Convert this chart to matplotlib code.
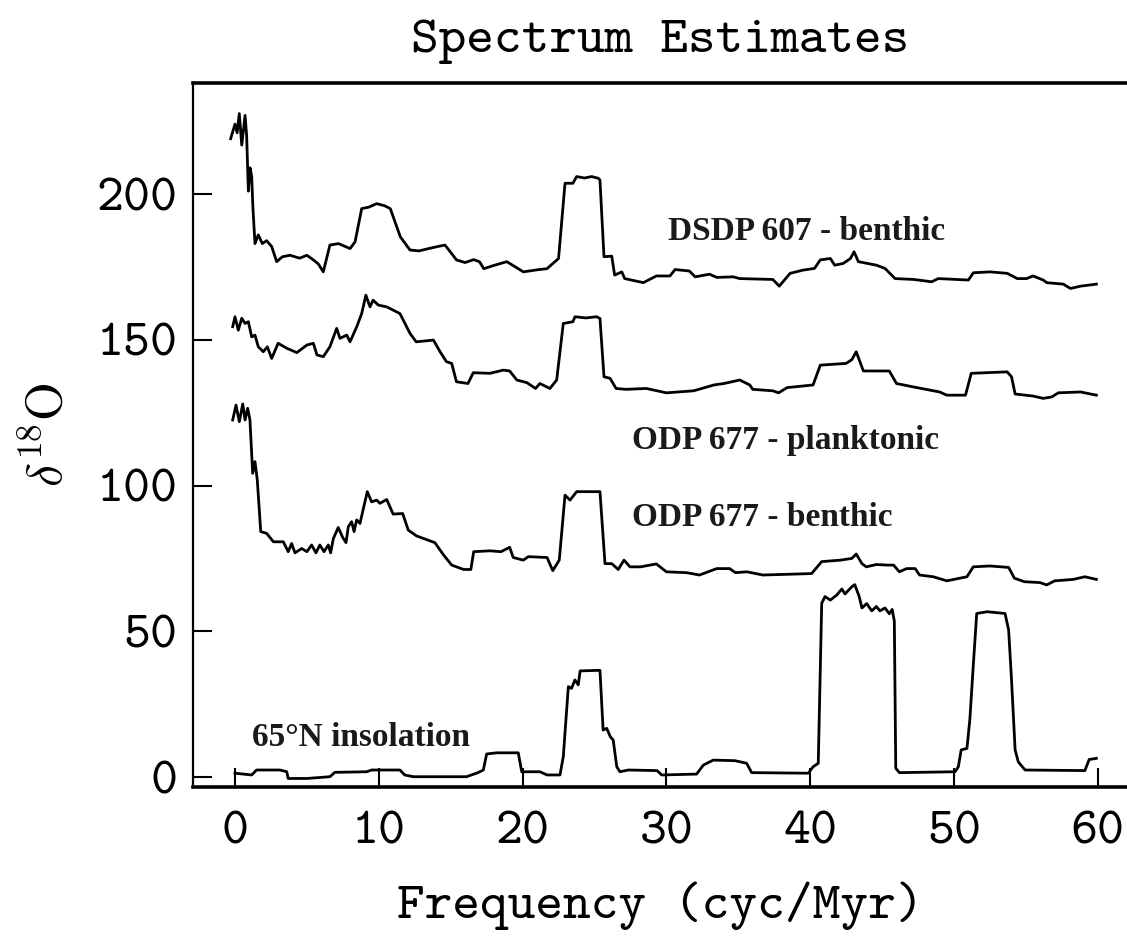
import matplotlib
matplotlib.use('Agg')
import matplotlib.pyplot as plt

# Spectral power of delta-18O records and 65N insolation, (frequency, power) pairs
dsdp607_benthic = [
    (-0.3, 219), (0.0, 224), (0.15, 221), (0.3, 227.6), (0.47, 216.8), (0.7, 227),
    (0.81, 220), (0.93, 201), (1.05, 209), (1.16, 206), (1.25, 195), (1.39, 183),
    (1.62, 186), (1.9, 183), (2.2, 184), (2.55, 182), (2.9, 176.8), (3.3, 178.5),
    (3.82, 179), (4.5, 178), (5.0, 179), (5.45, 177.4), (5.8, 176), (6.14, 173.3),
    (6.6, 182.5), (7.2, 183), (8.0, 181.3), (8.35, 183.6), (8.81, 195), (9.3, 195.5),
    (9.85, 196.7), (10.4, 196), (10.8, 195), (11.5, 185.3), (12.17, 180.8), (12.8, 180.5),
    (13.56, 181.4), (14.1, 182), (14.6, 182.5), (15.0, 180), (15.4, 177.4), (16.0, 176.5),
    (16.6, 177.5), (17.0, 176.8), (17.3, 174.4), (18.0, 175.5), (18.9, 176.8), (19.5, 175),
    (20.05, 173.3), (21.0, 174), (21.7, 174.4), (22.5, 177.9), (22.95, 203.7), (23.5, 203.7),
    (23.76, 206), (24.3, 205.5), (24.8, 206), (25.27, 205.4), (25.38, 204.8), (25.66, 178.5),
    (26.2, 178.7), (26.4, 172.2), (26.9, 173.3), (27.1, 171), (28.4, 169.6), (29.3, 171.9),
    (30.25, 171.9), (30.6, 174.1), (31.6, 173.6), (32.0, 171.6), (33.0, 172.5), (33.5, 171.4),
    (34.65, 171.6), (35.1, 171), (37.4, 170.7), (37.85, 168.4), (38.6, 172.8), (39.5, 173.9),
    (40.3, 174.5), (40.7, 177.4), (41.4, 177.9), (41.7, 175.6), (42.3, 176.2), (42.8, 177.9),
    (43.05, 180.2), (43.35, 176.8), (44.6, 175.6), (45.2, 174.5), (45.9, 171), (47.2, 170.7),
    (48.45, 169.9), (48.9, 171), (51.0, 170.5), (51.35, 173), (52.5, 173.3), (53.7, 172.8),
    (54.4, 171), (55.05, 171), (55.5, 171.9), (56.2, 170.5), (56.45, 169.6), (57.6, 169.1),
    (58.1, 167.6), (58.8, 168.4), (59.9, 169.1),
]

odp677_planktonic = [
    (-0.16, 154.5), (0.0, 157.9), (0.23, 153.3), (0.47, 157.4), (0.7, 155.6), (0.93, 156.2),
    (1.16, 151), (1.39, 151.6), (1.62, 147.6), (1.97, 145.9), (2.25, 147.6), (2.55, 143.6),
    (3.0, 148.8), (3.6, 147.1), (4.3, 145.6), (5.0, 148.2), (5.45, 148.8), (5.7, 144.8),
    (6.14, 144.2), (6.6, 147.6), (7.07, 153.9), (7.3, 150.5), (7.77, 151.6), (8.0, 149.3),
    (8.46, 154.4), (8.81, 159), (9.1, 165.3), (9.39, 161.3), (9.6, 163.6), (9.97, 161.9),
    (10.55, 161.3), (11.47, 159), (12.17, 152.2), (12.6, 149.3), (13.8, 149.9), (14.26, 145.9),
    (14.7, 142.5), (15.07, 141.9), (15.4, 135.6), (16.2, 135), (16.57, 138.7), (17.73, 138.5),
    (18.66, 139.6), (19.1, 139.3), (19.6, 136.2), (20.3, 135.3), (20.9, 133.3), (21.2, 135),
    (21.9, 133.3), (22.37, 136.2), (22.83, 155.6), (23.5, 156.2), (23.64, 157.9), (24.4, 157.5),
    (25.15, 157.9), (25.38, 157.3), (25.66, 137.3), (26.08, 136.8), (26.5, 133.3), (27.2, 133),
    (28.6, 133.3), (30.0, 131.8), (31.9, 132.5), (33.3, 134.5), (34.0, 135), (35.1, 136.2),
    (35.8, 134.5), (36.0, 133), (37.4, 132.5), (37.8, 131.8), (38.4, 133.6), (40.2, 134.5),
    (40.7, 141.3), (42.5, 141.9), (42.9, 143.2), (43.2, 145.9), (43.5, 141.9), (43.7, 139.3),
    (45.5, 139.3), (46.0, 135), (47.2, 133.8), (49.0, 132.1), (49.5, 131), (50.8, 131),
    (51.2, 138.5), (53.7, 139), (54.0, 137.3), (54.25, 131.4), (55.5, 130.7), (56.2, 129.9),
    (56.8, 130.4), (57.25, 131.8), (58.8, 132.1), (59.9, 131),
]

odp677_benthic = [
    (-0.16, 122.5), (0.07, 127.6), (0.3, 121.9), (0.54, 128), (0.7, 122.5), (0.88, 126.5),
    (1.04, 122.5), (1.23, 104.2), (1.39, 108.2), (1.55, 101.9), (1.79, 84.2), (2.2, 83.6),
    (2.67, 80.7), (3.36, 80.7), (3.7, 77.3), (3.94, 80.1), (4.17, 76.9), (4.64, 78.4),
    (5.0, 77.3), (5.33, 79.6), (5.63, 76.9), (5.9, 79.6), (6.19, 77.3), (6.49, 79.6),
    (6.65, 76.9), (6.84, 81.8), (7.18, 85.6), (7.49, 82.2), (7.72, 80.4), (7.88, 85.9),
    (8.11, 87.6), (8.28, 84.2), (8.46, 88.2), (8.69, 87), (9.2, 97.9), (9.5, 94.4),
    (9.85, 95), (10.08, 93.9), (10.55, 95.2), (11.0, 90.2), (11.66, 90.4), (12.05, 84.7),
    (12.63, 82.7), (13.9, 80.4), (14.5, 76.2), (15.07, 72.7), (15.4, 72.1), (15.9, 71.2),
    (16.4, 71.2), (16.6, 77.3), (17.73, 77.6), (18.5, 77.3), (19.1, 78.8), (19.35, 75.3),
    (20.05, 74.4), (20.4, 75.6), (21.7, 75.3), (22.1, 70.8), (22.55, 74.4), (22.95, 96.7),
    (23.3, 95), (23.76, 97.9), (25.38, 97.9), (25.73, 73.2), (26.2, 73.2), (26.65, 71.2),
    (27.05, 74.4), (27.47, 72.1), (28.2, 72.1), (28.86, 72.7), (29.3, 73.1), (30.0, 70.4),
    (31.4, 70.1), (32.3, 69.3), (33.5, 71.5), (34.4, 71.5), (34.8, 70.1), (35.6, 70.4),
    (36.7, 69.3), (38.8, 69.6), (40.1, 69.8), (40.8, 73.9), (42.1, 74.4), (42.9, 75),
    (43.2, 76.5), (43.6, 73.2), (43.9, 72.1), (44.6, 72.9), (45.4, 72.7), (45.8, 72.7),
    (46.2, 70.4), (46.7, 71.5), (47.3, 71.5), (47.6, 69.3), (48.56, 68.7), (49.5, 67.3),
    (50.9, 68.7), (51.34, 72.1), (52.5, 72.4), (53.8, 71.9), (54.2, 68.2), (54.9, 67),
    (55.98, 66.7), (56.45, 65.9), (57.0, 67.3), (58.3, 67.8), (59.1, 68.7), (59.9, 67.8),
]

insolation_65n = [
    (0.0, 1.3), (1.16, 0.7), (1.5, 2.4), (3.13, 2.4), (3.6, 1.8), (3.7, -0.5),
    (5.0, -0.5), (6.6, 0.1), (6.95, 1.6), (9.16, 1.8), (9.5, 2.4), (11.47, 2.4),
    (11.8, 0.7), (12.4, 0.1), (16.1, 0.1), (16.9, 1.5), (17.27, 2.4), (17.5, 7.9),
    (18.2, 8.3), (19.7, 8.3), (19.94, 1.8), (21.2, 1.8), (21.7, 0.7), (22.6, 0.7),
    (22.83, 7), (23.18, 31), (23.4, 30.4), (23.64, 33.3), (23.87, 31.6), (24.0, 36.4),
    (25.38, 36.6), (25.6, 16.1), (25.85, 16.7), (26.1, 13.8), (26.3, 12.7), (26.55, 3.5),
    (26.77, 1.8), (27.35, 2.4), (29.35, 2.2), (29.67, 0.7), (32.1, 1.0), (32.57, 4.1),
    (33.26, 5.8), (34.77, 5.6), (35.58, 4.7), (35.93, 1.5), (39.87, 1.3), (40.2, 3.5),
    (40.56, 4.7), (40.8, 59.6), (41.03, 61.9), (41.4, 60.7), (41.84, 62.4), (42.2, 64.5),
    (42.42, 62.8), (42.9, 65.3), (43.1, 66), (43.4, 62), (43.6, 58), (43.93, 59.5),
    (44.28, 57), (44.6, 58.5), (44.85, 57), (45.2, 58), (45.5, 56), (45.7, 57.5),
    (45.85, 53.5), (45.95, 3), (46.2, 1.5), (50.07, 1.8), (50.3, 3.5), (50.5, 9.3),
    (50.9, 9.8), (51.1, 19.6), (51.35, 39), (51.58, 56.1), (52.3, 56.7), (53.55, 56.1),
    (53.8, 50.4), (54.0, 33.3), (54.25, 9.3), (54.47, 5.2), (54.94, 2.4), (59.1, 2.2),
    (59.4, 6.0), (59.9, 6.4),
]

series = [dsdp607_benthic, odp677_planktonic, odp677_benthic, insolation_65n]
labels = [
    ('DSDP 607 - benthic', 30.1, 187),
    ('ODP 677 - planktonic', 27.6, 115.6),
    ('ODP 677 - benthic', 27.6, 89.2),
    ('65°N insolation', 1.18, 13.4),
]

# Computer Modern typewriter ships with matplotlib
mono = 'cmtt10'
plt.rcParams['mathtext.fontset'] = 'cm'
plt.rcParams['axes.unicode_minus'] = False

fig = plt.figure(figsize=(11.27, 9.43), dpi=100)
ax = fig.add_axes([193 / 1127, 1 - 787 / 943, 934 / 1127, 704 / 943])

for pts in series:
    xs, ys = zip(*pts)
    ax.plot(xs, ys, color='black', lw=2.0)

for text, x, y in labels:
    ax.text(x, y, text, fontsize=24, fontweight='bold', family='Liberation Serif',
            va='center', ha='left', color='#1a1a1a')

ax.set_xlim(-2.92, 62.03)
ax.set_ylim(-3.43, 238.1)
ax.set_xticks(range(0, 61, 10))
ax.set_yticks(range(0, 201, 50))

ax.spines['right'].set_visible(False)
ax.spines['top'].set_linewidth(2.6)
ax.spines['bottom'].set_linewidth(2.6)
ax.spines['left'].set_linewidth(1.6)

ax.tick_params(direction='in', length=14, width=1.5, labelsize=37)
ax.tick_params(axis='y', pad=11)
ax.tick_params(axis='x', pad=18)
for lbl in ax.get_xticklabels() + ax.get_yticklabels():
    lbl.set_family(mono)

ax.set_title('Spectrum Estimates', family=mono, fontsize=38, pad=22)
ax.set_xlabel('Frequency (cyc/Myr)', family=mono, fontsize=38, labelpad=18)
ax.set_ylabel(r'$\delta^{18}\mathrm{O}$', fontsize=36, labelpad=18)

fig.savefig('out.png', dpi=100)
